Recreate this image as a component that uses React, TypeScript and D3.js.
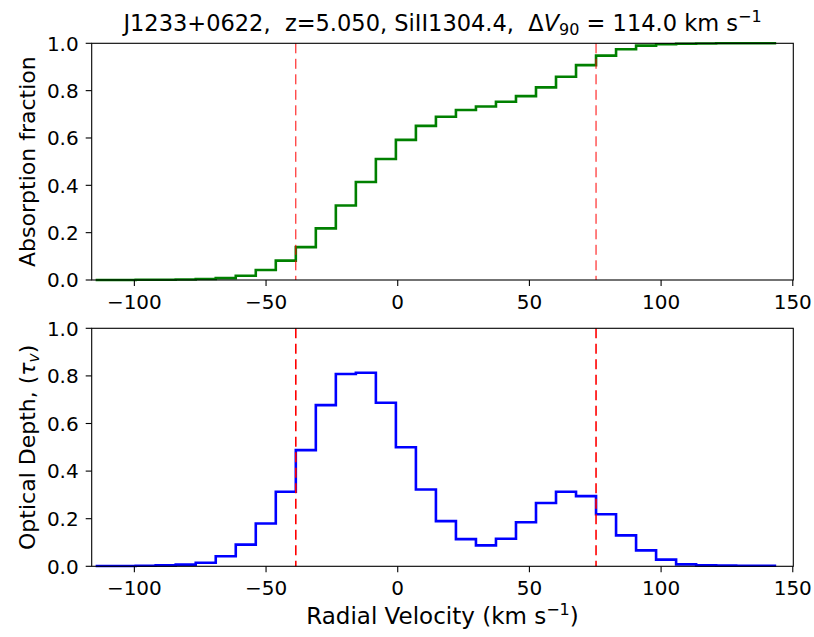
import React from "react";
import * as d3 from "d3";

// Velocity bin edges (km/s)
const velocityEdges = [
  -114.7, -107.1, -99.5, -91.9, -84.3, -76.7, -69.1, -61.5, -53.9, -46.3,
  -38.7, -31.1, -23.5, -15.9, -8.3, -0.7, 6.9, 14.5, 22.1, 29.7,
  37.3, 44.9, 52.5, 60.1, 67.7, 75.3, 82.9, 90.5, 98.1, 105.7,
  113.3, 120.9, 128.5, 136.1, 143.7,
];

// Cumulative absorption fraction per bin
const absorptionFraction = [
  0.0, 0.0, 0.001, 0.001, 0.002, 0.004, 0.008, 0.018, 0.042, 0.082,
  0.139, 0.218, 0.315, 0.414, 0.511, 0.592, 0.651, 0.69, 0.718, 0.733,
  0.753, 0.777, 0.814, 0.859, 0.908, 0.948, 0.975, 0.99, 0.996, 0.998,
  0.999, 1.0, 1.0, 1.0,
];

// Optical depth per bin
const opticalDepth = [
  0.001, 0.001, 0.002, 0.004, 0.007, 0.015, 0.042, 0.091, 0.18, 0.313,
  0.488, 0.677, 0.808, 0.813, 0.687, 0.5, 0.323, 0.19, 0.114, 0.088,
  0.116, 0.185, 0.266, 0.313, 0.295, 0.219, 0.13, 0.067, 0.028, 0.008,
  0.004, 0.003, 0.002, 0.002,
];

const v05 = -38.7;
const v95 = 75.3;

const xTicks = [-100, -50, 0, 50, 100, 150];
const yTicks = [0, 0.2, 0.4, 0.6, 0.8, 1.0];

const W = 814;
const H = 637;
const left = 91.7;
const right = 793.3;
const panels = [
  { top: 43.3, bottom: 280 },
  { top: 328.3, bottom: 566.3 },
];

const FONT = "'DejaVu Sans', sans-serif";

function fmtX(v: number) {
  return v < 0 ? "\u2212" + Math.abs(v) : String(v);
}

function Panel({
  top,
  bottom,
  values,
  color,
  dashWidth,
}: {
  top: number;
  bottom: number;
  values: number[];
  color: string;
  dashWidth: number;
}) {
  const x = d3.scaleLinear().domain([-116.2, 150.2]).range([left, right]);
  const y = d3.scaleLinear().domain([0, 1]).range([bottom, top]);
  const pts: [number, number][] = velocityEdges.map((v, i) => [
    v,
    values[Math.min(i, values.length - 1)],
  ]);
  const line = d3
    .line<[number, number]>()
    .x((d) => x(d[0]))
    .y((d) => y(d[1]))
    .curve(d3.curveStepAfter);
  return (
    <g>
      <path d={line(pts) || ""} fill="none" stroke={color} strokeWidth={2.6} strokeLinejoin="miter" />
      {[v05, v95].map((v) => (
        <line
          key={v}
          x1={x(v)}
          x2={x(v)}
          y1={top}
          y2={bottom}
          stroke="#ff0000"
          strokeWidth={dashWidth}
          strokeDasharray="10,5.5"
        />
      ))}
      <rect
        x={left}
        y={top}
        width={right - left}
        height={bottom - top}
        fill="none"
        stroke="#000"
        strokeWidth={1.1}
      />
      {xTicks.map((t) => (
        <g key={t}>
          <line x1={x(t)} x2={x(t)} y1={bottom} y2={bottom + 6} stroke="#000" strokeWidth={1.1} />
          <text
            x={x(t)}
            y={bottom + 29}
            textAnchor="middle"
            fontFamily={FONT}
            fontSize={20}
            fill="#000"
          >
            {fmtX(t)}
          </text>
        </g>
      ))}
      {yTicks.map((t) => (
        <g key={t}>
          <line x1={left - 6} x2={left} y1={y(t)} y2={y(t)} stroke="#000" strokeWidth={1.1} />
          <text
            x={left - 13}
            y={y(t)}
            dy="0.36em"
            textAnchor="end"
            fontFamily={FONT}
            fontSize={20}
            fill="#000"
          >
            {t.toFixed(1)}
          </text>
        </g>
      ))}
    </g>
  );
}

export default function App() {
  return (
    <svg
      width={W}
      height={H}
      style={{ position: "absolute", left: 0, top: 0, background: "#fff" }}
    >
      <rect width={W} height={H} fill="#fff" />
      <Panel top={panels[0].top} bottom={panels[0].bottom} values={absorptionFraction} color="#008000" dashWidth={1} />
      <Panel top={panels[1].top} bottom={panels[1].bottom} values={opticalDepth} color="#0000ff" dashWidth={1.6} />
      <text
        x={(left + right) / 2}
        y={30.5}
        textAnchor="middle"
        fontFamily={FONT}
        fontSize={22.5}
        fill="#000"
        style={{ whiteSpace: "pre" }}
      >
        {"J1233+0622,  z=5.050, SiII1304.4,  Δ"}
        <tspan fontStyle="italic">V</tspan>
        <tspan fontSize={16} dy={4}>90</tspan>
        <tspan dy={-4}>{" = 114.0 km s"}</tspan>
        <tspan fontSize={16} dy={-9}>−1</tspan>
      </text>
      <text
        transform={`translate(35, ${(panels[0].top + panels[0].bottom) / 2}) rotate(-90)`}
        textAnchor="middle"
        fontFamily={FONT}
        fontSize={22}
        fill="#000"
      >
        Absorption fraction
      </text>
      <text
        transform={`translate(35, ${(panels[1].top + panels[1].bottom) / 2}) rotate(-90)`}
        textAnchor="middle"
        fontFamily={FONT}
        fontSize={22}
        fill="#000"
      >
        Optical Depth, (<tspan fontStyle="italic">τ</tspan>
        <tspan fontSize={15.5} fontStyle="italic" dy={4}>v</tspan>
        <tspan dy={-4}>)</tspan>
      </text>
      <text x={(left + right) / 2} y={624} textAnchor="middle" fontFamily={FONT} fontSize={23} fill="#000">
        Radial Velocity (km s<tspan fontSize={16} dy={-9}>−1</tspan>
        <tspan dy={9}>)</tspan>
      </text>
    </svg>
  );
}
